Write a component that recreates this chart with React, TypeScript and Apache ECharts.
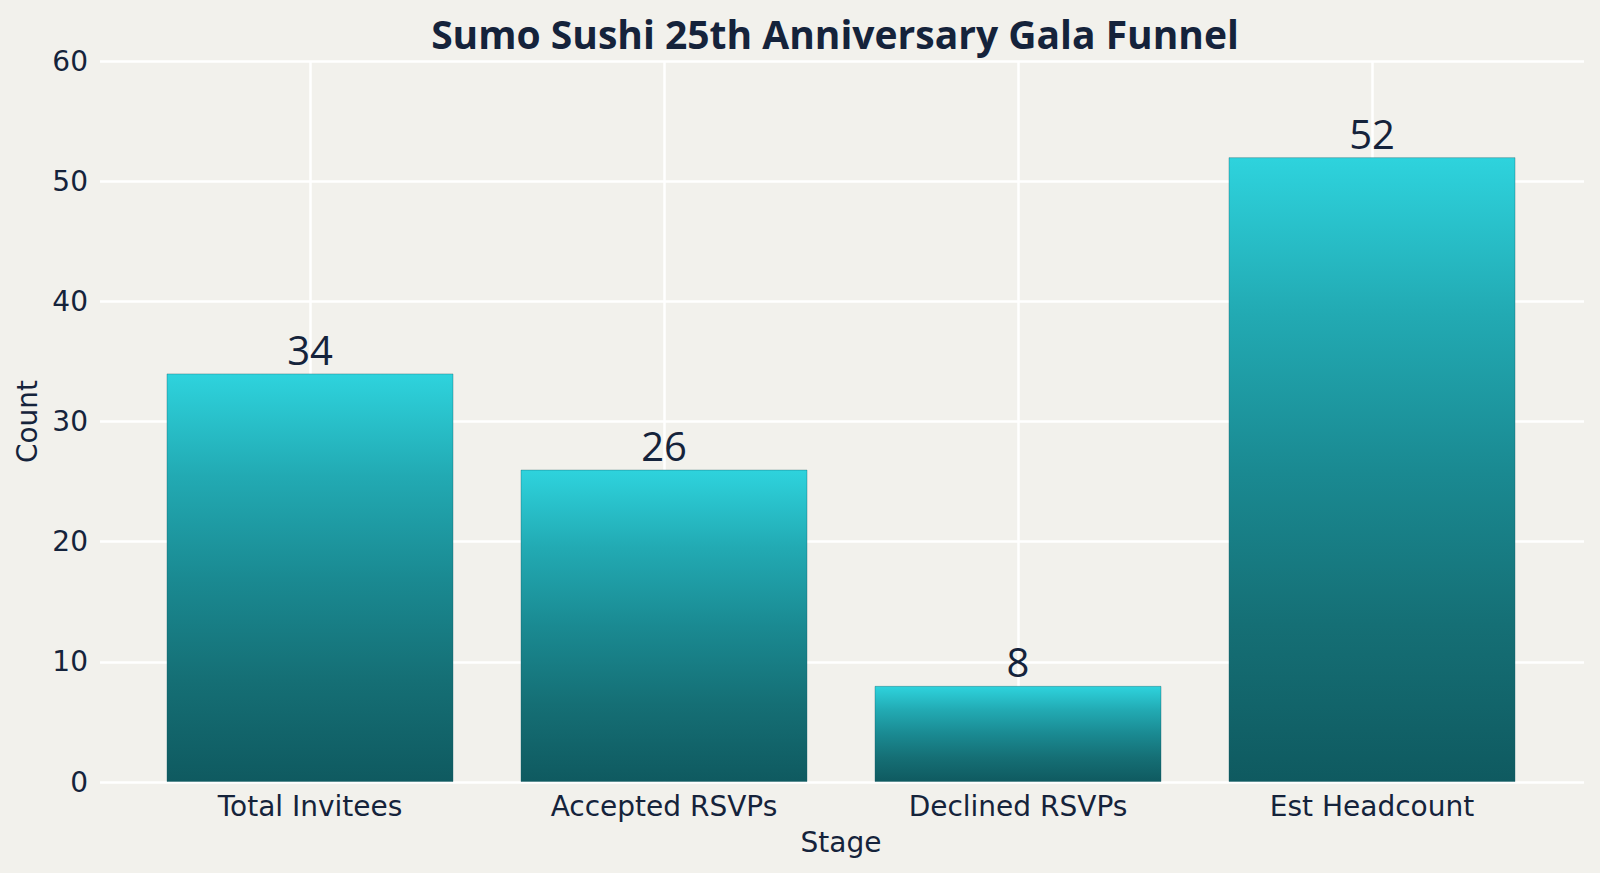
import React, { useEffect, useRef } from "react";
import * as echarts from "echarts";

const categories = ["Total Invitees", "Accepted RSVPs", "Declined RSVPs", "Est Headcount"];
const counts = [34, 26, 8, 52];
const yTicks = { min: 0, max: 60, interval: 10 };

const TITLE = "Sumo Sushi 25th Anniversary Gala Funnel";
const BG = "#f2f1ec";
const INK = "#15233b";
const TICK_FONT = "DejaVu Sans";

export default function App() {
  const ref = useRef<HTMLDivElement>(null);

  useEffect(() => {
    document.body.style.margin = "0";
    if (!ref.current) return;
    const chart = echarts.init(ref.current, undefined, { renderer: "svg" });

    const barGradient = new echarts.graphic.LinearGradient(0, 0, 0, 1, [
      { offset: 0, color: "#2ed3dd" },
      { offset: 0.25, color: "#22aab3" },
      { offset: 0.5, color: "#1a8a92" },
      { offset: 0.75, color: "#156f75" },
      { offset: 1, color: "#0f5a60" },
    ]);

    chart.setOption({
      animation: false,
      backgroundColor: BG,
      title: {
        text: TITLE,
        left: 830,
        top: 9,
        textAlign: "center",
        textStyle: {
          fontFamily: "Open Sans",
          fontWeight: "bold",
          fontSize: 39,
          color: INK,
        },
      },
      grid: [
        { left: 100, right: 16, top: 61, bottom: 91 },
        { left: 310, right: 228, top: 61, bottom: 91 },
      ],
      xAxis: [
        {
          type: "category",
          gridIndex: 0,
          data: categories,
          show: false,
        },
        {
          type: "category",
          gridIndex: 1,
          data: categories,
          boundaryGap: false,
          axisLine: { show: false },
          axisTick: { show: false },
          axisLabel: {
            fontFamily: TICK_FONT,
            fontSize: 28,
            color: INK,
            margin: 10,
            interval: 0,
          },
          splitLine: { show: true, lineStyle: { color: "#ffffff", width: 2.5 } },
          name: "Stage",
          nameLocation: "middle",
          nameGap: 46,
          nameTextStyle: { fontFamily: TICK_FONT, fontSize: 28, color: INK },
        },
      ],
      yAxis: [
        {
          type: "value",
          gridIndex: 0,
          min: yTicks.min,
          max: yTicks.max,
          interval: yTicks.interval,
          axisLine: { show: false },
          axisTick: { show: false },
          axisLabel: { fontFamily: TICK_FONT, fontSize: 28, color: INK, margin: 12 },
          splitLine: { show: true, lineStyle: { color: "#ffffff", width: 2.5 } },
          name: "Count",
          nameLocation: "middle",
          nameGap: 57,
          nameRotate: 90,
          nameTextStyle: { fontFamily: TICK_FONT, fontSize: 28, color: INK },
        },
        {
          type: "value",
          gridIndex: 1,
          min: yTicks.min,
          max: yTicks.max,
          interval: yTicks.interval,
          show: false,
          splitLine: { show: false },
        },
      ],
      series: [
        {
          type: "bar",
          xAxisIndex: 1,
          yAxisIndex: 1,
          data: counts,
          barWidth: 287,
          clip: false,
          itemStyle: {
            color: barGradient,
            borderColor: "rgba(14,90,96,0.35)",
            borderWidth: 1,
          },
          label: {
            show: true,
            position: "top",
            distance: 4,
            fontFamily: "Open Sans",
            fontSize: 40,
            color: INK,
          },
        },
      ],
    });

    return () => chart.dispose();
  }, []);

  return <div ref={ref} style={{ width: 1600, height: 873 }} />;
}
